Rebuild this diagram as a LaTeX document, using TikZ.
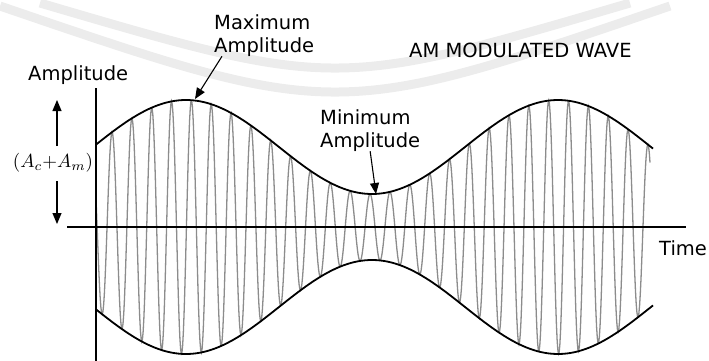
\documentclass[tikz,border=0pt]{standalone}
\usepackage{graphicx}
\usepackage{fontspec}
\setmainfont{DejaVu Sans}
\usetikzlibrary{arrows.meta}
\definecolor{wavegray}{RGB}{140,140,140}
\definecolor{wmgray}{RGB}{236,236,236}
\begin{document}
\begin{tikzpicture}[x=1pt,y=-1pt,
  lbl/.style={inner sep=0pt, font=\fontsize{19.5}{23}\selectfont},
  arr/.style={line width=1.1pt, -{Triangle[length=11pt,width=9pt]}},
  env/.style={line width=1.8pt, black},
  carrier/.style={line width=1.3pt, color=wavegray},
  haxis/.style={line width=1.8pt, black},
  vaxis/.style={line width=1.4pt, black},
  wm/.style={line width=9pt, color=wmgray}]
\useasboundingbox (0,0) rectangle (709,361);
% faint watermark arcs
\draw[wm] (40,3) .. controls (335,89.7) .. (630,3);
\draw[wm] (0,6) .. controls (335,120.7) .. (670,6);
% carrier
\draw[carrier] plot[domain=96:650, samples=800] (\x, {227 - (80+47*cos(0.96774*(\x-186)))*cos(18.136*(\x-112))});
% envelope
\draw[env] plot[domain=96:653, samples=150] (\x, {227 - (80+47*cos(0.96774*(\x-186)))});
\draw[env] plot[domain=96:653, samples=150] (\x, {227 + (80+47*cos(0.96774*(\x-186)))});
% axes
\draw[haxis] (67,227) -- (686,227);
\draw[vaxis] (96,88) -- (96,361);
% labels
\node[lbl, anchor=base west] (ylbl) at (28,80) {Amplitude};
\node[lbl, anchor=base west] (title) at (409,58) {AM MODULATED WAVE};
\node[lbl, anchor=base west] (tlbl) at (659,255) {Time};
\node[lbl, anchor=north west, align=left] (maxlbl) at (214,14) {Maximum\\Amplitude};
\node[lbl, anchor=north west, align=left] (minlbl) at (320,109) {Minimum\\Amplitude};
\node[inner sep=0pt] (acam) at (53,163) {\scalebox{1.9}{$(A_c{+}A_m)$}};
% arrow targets
\coordinate (maxpt) at (195,99);
\coordinate (minpt) at (376,194);
\coordinate (uptip) at (57,100);
\coordinate (upbase) at (57,146);
\coordinate (dntip) at (57,224);
\coordinate (dnbase) at (57,181);
\draw[arr] (upbase) -- (uptip);
\draw[arr] (dnbase) -- (dntip);
\draw[arr] ([xshift=8pt]maxlbl.south west) -- (maxpt);
\draw[arr] (minlbl.south) -- (minpt);
\end{tikzpicture}
\end{document}
